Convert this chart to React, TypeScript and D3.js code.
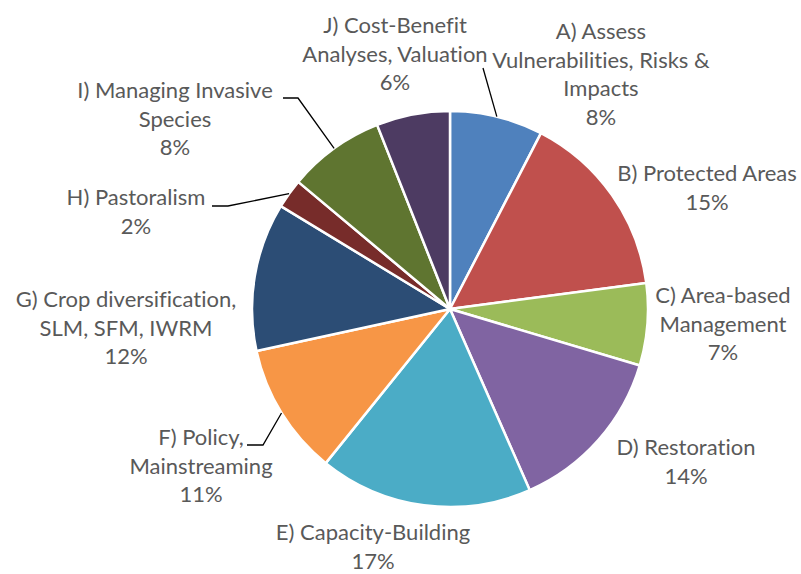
import React from "react";
import * as d3 from "d3";

// data
const categories = [
  "A) Assess Vulnerabilities, Risks & Impacts",
  "B) Protected Areas",
  "C) Area-based Management",
  "D) Restoration",
  "E) Capacity-Building",
  "F) Policy, Mainstreaming",
  "G) Crop diversification, SLM, SFM, IWRM",
  "H) Pastoralism",
  "I) Managing Invasive Species",
  "J) Cost-Benefit Analyses, Valuation",
];
const values = [7.6, 15.3, 6.7, 13.8, 17.4, 10.8, 12.1, 2.4, 7.9, 6.0];
const colors = [
  "#4F81BD", "#C0504D", "#9BBB59", "#8064A2", "#4BACC6",
  "#F79646", "#2C4D75", "#772C2A", "#5F7530", "#4D3B62",
];

// how each label wraps onto lines
const labelLines = [
  ["A) Assess", "Vulnerabilities, Risks &", "Impacts"],
  ["B) Protected Areas"],
  ["C) Area-based", "Management"],
  ["D) Restoration"],
  ["E) Capacity-Building"],
  ["F) Policy,", "Mainstreaming"],
  ["G) Crop diversification,", "SLM, SFM, IWRM"],
  ["H) Pastoralism"],
  ["I) Managing Invasive", "Species"],
  ["J) Cost-Benefit", "Analyses, Valuation"],
];

// label placement: center x, first baseline y
const labelPos = [
  [601, 39], [707, 181], [723, 303], [686, 455], [373, 540],
  [201, 445], [126, 307], [136, 205], [175, 98], [395, 33],
];

// leader lines: start point and elbow (null = none)
const leaders: ([number, number][] | null)[] = [
  [[483, 68]],
  null, null, null, null,
  [[247, 445], [263, 445]],
  null,
  [[212, 206], [228, 206]],
  [[283, 98], [298, 98]],
  null,
];

const width = 801;
const height = 574;
const cx = 450;
const cy = 309;
const radius = 198;
const lineH = 28.6;

export default function App() {
  const total = d3.sum(values);
  const pie = d3.pie<number>().sort(null).value(d => d);
  const arcs = pie(values);
  const arc = d3.arc<d3.PieArcDatum<number>>().innerRadius(0).outerRadius(radius);

  const edgePoint = (a: d3.PieArcDatum<number>) => {
    const mid = (a.startAngle + a.endAngle) / 2;
    return [cx + radius * Math.sin(mid), cy - radius * Math.cos(mid)];
  };

  return (
    <svg
      width={width}
      height={height}
      style={{ position: "absolute", left: 0, top: 0, background: "#fff" }}
    >
      <g transform={`translate(${cx},${cy})`}>
        {arcs.map((a, i) => (
          <path
            key={categories[i]}
            d={arc(a) || ""}
            fill={colors[i]}
            stroke="#fff"
            strokeWidth={2.5}
            strokeLinejoin="round"
          />
        ))}
      </g>
      {arcs.map((a, i) => {
        const pts = leaders[i];
        if (!pts) return null;
        const end = edgePoint(a);
        const all = [...pts, end].map(p => p.join(",")).join(" ");
        return (
          <polyline key={"l" + i} points={all} fill="none" stroke="#000" strokeWidth={1.3} />
        );
      })}
      <g
        fontFamily="Lato, 'Open Sans', sans-serif"
        fontSize={22}
        fill="#595959"
        textAnchor="middle"
        style={{ fontVariantLigatures: "none" }}
      >
        {labelLines.map((lines, i) => {
          const [x, y] = labelPos[i];
          const pct = Math.round((values[i] / total) * 100) + "%";
          return (
            <text key={"t" + i} x={x} y={y}>
              {[...lines, pct].map((s, j) => (
                <tspan key={j} x={x} y={y + j * lineH}>
                  {s}
                </tspan>
              ))}
            </text>
          );
        })}
      </g>
    </svg>
  );
}
